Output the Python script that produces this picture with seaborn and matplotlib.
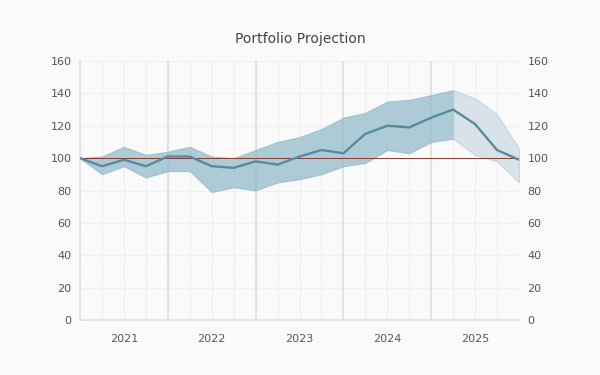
import matplotlib
matplotlib.use("Agg")
import matplotlib.pyplot as plt
import seaborn as sns
import numpy as np
import pandas as pd

quarters = list(range(21))
mean_vals = [100, 95, 99, 95, 101, 101, 95, 94, 98, 96, 101, 105, 103, 115, 120, 119, 125, 130, 121, 105, 99]
upper_vals = [100, 101, 107, 102, 104, 107, 101, 100, 105, 110, 113, 118, 125, 128, 135, 136, 139, 142, 137, 127, 106]
lower_vals = [100, 90, 95, 88, 92, 92, 79, 82, 80, 85, 87, 90, 95, 97, 105, 103, 110, 112, 102, 98, 85]
hist_end = 17
year_labels = ["2021", "2022", "2023", "2024", "2025"]
year_label_pos = [2, 6, 10, 14, 18]
year_bounds = [4, 8, 12, 16]
y_ticks = [0, 20, 40, 60, 80, 100, 120, 140, 160]

sns.set_theme(style="white")
plt.rcParams['font.family'] = ['DejaVu Sans']

df = pd.DataFrame({"q": quarters, "mean": mean_vals})

fig = plt.figure(figsize=(6, 3.75), dpi=100, facecolor="#fafafa")
ax = fig.add_axes([80/600, 1-320/375, 439/600, 259/375])
ax.set_facecolor("#fafafa")

# grid
for q in quarters:
    ax.axvline(q, color="#efefef", lw=0.8, zorder=0)
for b in year_bounds:
    ax.axvline(b, color="#e2e2e2", lw=1.6, zorder=0.5)
for yv in y_ticks:
    ax.axhline(yv, color="#f0f0f0", lw=0.8, zorder=0)

q = np.array(quarters)
up = np.array(upper_vals)
lo = np.array(lower_vals)
ax.fill_between(q[:hist_end+1], lo[:hist_end+1], up[:hist_end+1], color="#8cb8c9", alpha=0.7, lw=0.8, edgecolor="#8cb8c9", zorder=2)
ax.fill_between(q[hist_end:], lo[hist_end:], up[hist_end:], color="#c9d8e2", alpha=0.7, lw=0.8, edgecolor="#b9cbd8", zorder=2)

ax.axhline(100, color="#8a3a2c", lw=0.7, zorder=2.5)

sns.lineplot(data=df, x="q", y="mean", ax=ax, color="#5a8aa0", lw=1.7, zorder=3)

ax.set_xlim(0, 20)
ax.set_ylim(0, 160)
ax.set_xticks(year_label_pos)
ax.set_xticklabels(year_labels)
ax.set_yticks(y_ticks)
ax.tick_params(axis="both", length=0, labelsize=8, colors="#555555", pad=6)
ax.tick_params(axis="x", pad=10)
ax.set_xlabel("")
ax.set_ylabel("")
for s in ["top", "right"]:
    ax.spines[s].set_visible(False)
for s in ["left", "bottom"]:
    ax.spines[s].set_color("#e0e0e0")
    ax.spines[s].set_linewidth(1.2)

ax2 = ax.twinx()
ax2.set_ylim(0, 160)
ax2.set_yticks(y_ticks)
ax2.tick_params(axis="y", length=0, labelsize=8, colors="#555555", pad=6)
for s in ax2.spines.values():
    s.set_visible(False)
ax2.grid(False)

fig.text(0.5, 1-39/375, "Portfolio Projection", ha="center", va="center", fontsize=10, color="#444444")

fig.savefig("out.png", dpi=100, facecolor=fig.get_facecolor())
